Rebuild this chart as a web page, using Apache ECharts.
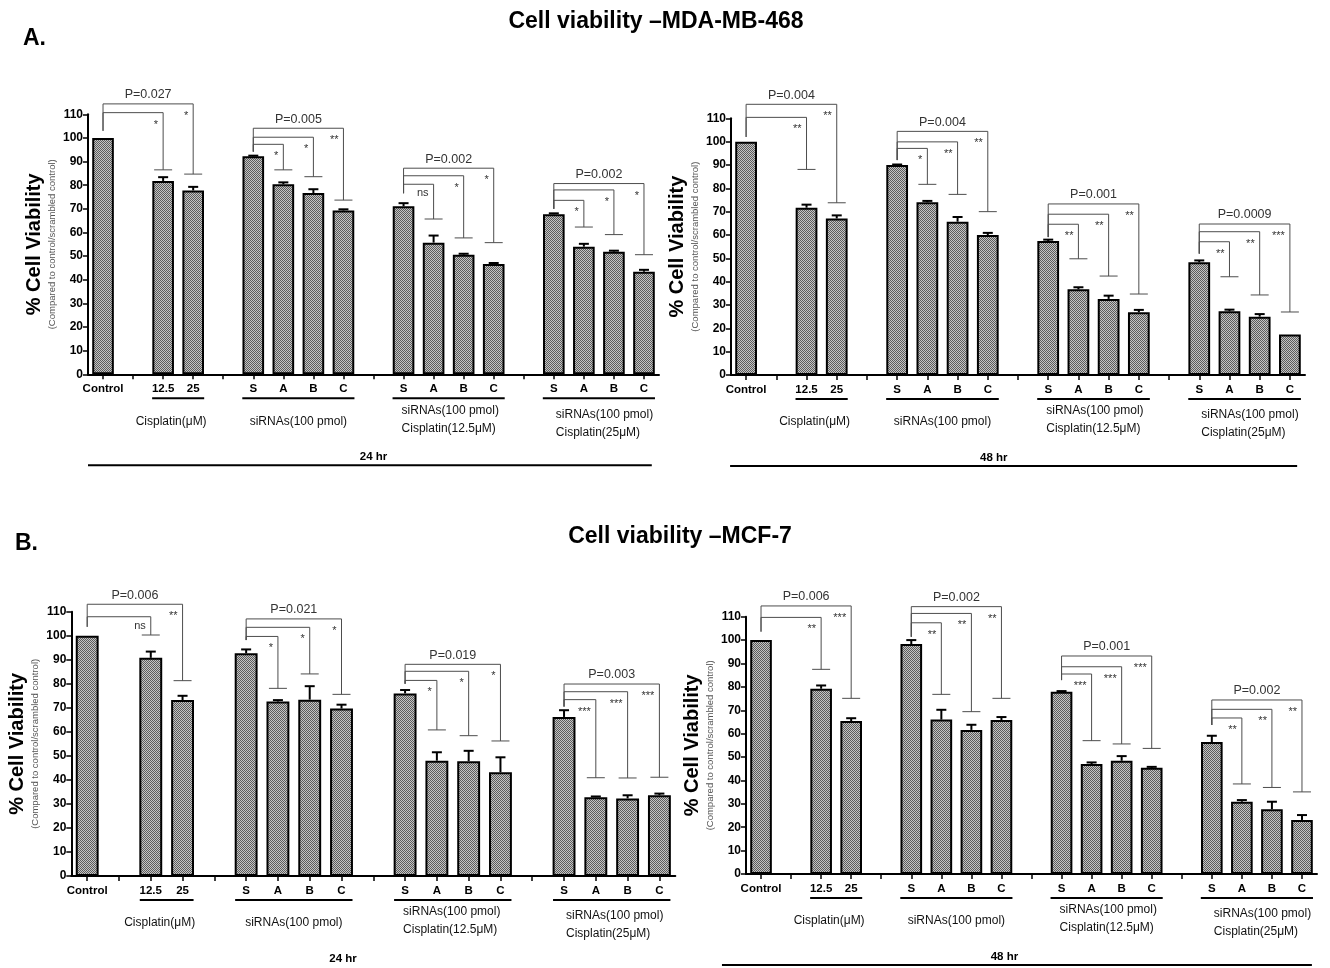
<!DOCTYPE html>
<html><head><meta charset="utf-8">
<script src="https://cdn.jsdelivr.net/npm/echarts@6/dist/echarts.min.js"></script>
<style>html,body{margin:0;padding:0;background:#fff}#c{width:1330px;height:968px}</style>
</head><body><div id="c"></div>
<script>
// ---------- DATA ----------
const slotKeys = ['Control','g1','12.5','25','g2','S1','A1','B1','C1','g3','S2','A2','B2','C2','g4','S3','A3','B3','C3'];
const tickLabels = ['Control','','12.5','25','','S','A','B','C','','S','A','B','C','','S','A','B','C'];
const groupSpans = [[2,3],[5,8],[10,13],[15,18]];
const groupNames = ['Cisplatin(\u03bcM)','siRNAs(100 pmol)','siRNAs(100 pmol)\nCisplatin(12.5\u03bcM)','siRNAs(100 pmol)\nCisplatin(25\u03bcM)'];
const yTicks = [0,10,20,30,40,50,60,70,80,90,100,110];

// MDA-MB-468, 24 hr
const mdaViab24 = [100,null,81.8,77.8,null,92.2,80.4,76.7,69.3,null,71.1,55.7,50.6,46.7,null,67.7,54.0,51.9,43.4];
const mdaErr24  = [0,null,1.6,1.5,null,0.3,0.8,1.6,0.5,null,1.3,3.0,0.4,0.4,null,0.4,1.2,0.4,0.8];
// [ref, target, bracketLevel, refEnd, targetEnd, mark]
const mdaBr24 = [[0,2,110.7,103,86.5,'*'],[0,3,114.4,103,84.7,'*'],
  [5,6,97.3,94.2,86.5,'*'],[5,7,100.3,94.2,83.6,'*'],[5,8,104.1,94.2,73.7,'**'],
  [10,11,80.4,76.6,65.7,'ns'],[10,12,84.0,76.6,57.7,'*'],[10,13,87.2,76.6,55.7,'*'],
  [15,16,73.6,70,62.3,'*'],[15,17,78.0,70,59.1,'*'],[15,18,80.7,70,50.6,'*']];
const mdaP24 = [[0,3,114.4,'P=0.027'],[5,8,104.1,'P=0.005'],[10,13,87.2,'P=0.002'],[15,18,80.7,'P=0.002']];

// MDA-MB-468, 48 hr
const mdaViab48 = [100,null,71.7,67.1,null,90.0,74.0,65.7,60.0,null,57.4,36.7,32.6,26.9,null,48.3,27.3,25.0,17.4];
const mdaErr48  = [0,null,1.3,1.3,null,0.2,0.6,2.0,0.9,null,0.6,0.9,1.4,1.0,null,0.8,0.7,1.1,0];
const mdaBr48 = [[0,2,110.4,102,88.1,'**'],[0,3,116.0,102,73.8,'**'],
  [5,6,97.1,92.1,81.7,'*'],[5,7,99.9,92.1,77.4,'**'],[5,8,104.4,92.1,70.0,'**'],
  [10,11,64.6,59.1,49.8,'**'],[10,12,68.9,59.1,42.4,'**'],[10,13,73.3,59.1,34.7,'**'],
  [15,16,57.1,52,42.1,'**'],[15,17,61.4,52,34.3,'**'],[15,18,64.7,52,27,'***']];
const mdaP48 = [[0,3,116.0,'P=0.004'],[5,8,104.4,'P=0.004'],[10,13,73.3,'P=0.001'],[15,18,64.7,'P=0.0009']];

// MCF-7, 24 hr
const mcfViab24 = [100,null,90.8,73.2,null,92.7,72.6,73.4,69.7,null,76.0,48.0,47.8,43.2,null,66.2,32.8,32.3,33.6];
const mcfErr24  = [0,null,2.6,1.8,null,1.6,0.6,5.6,1.6,null,1.4,3.5,4.3,6.2,null,2.8,0.3,1.3,0.7];
const mcfBr24 = [[0,2,107.9,103.7,100.3,'ns'],[0,3,113.1,103.7,81.3,'**'],
  [5,6,99.7,98.2,78.1,'*'],[5,7,103.5,98.2,84.1,'*'],[5,8,107.0,98.2,75.6,'*'],
  [10,11,81.4,80,60.8,'*'],[10,12,85.2,80,58.4,'*'],[10,13,88.1,80,56.2,'*'],
  [15,16,73.4,70.5,40.9,'***'],[15,17,76.7,70.5,40.8,'***'],[15,18,79.9,70.5,41.1,'***']];
const mcfP24 = [[0,3,113.1,'P=0.006'],[5,8,107.0,'P=0.021'],[10,13,88.1,'P=0.019'],[15,18,79.9,'P=0.003']];

// MCF-7, 48 hr
const mcfViab48 = [100,null,79.2,65.4,null,98.3,66.0,61.6,65.8,null,77.9,47.0,48.4,45.4,null,56.4,30.9,27.7,23.1];
const mcfErr48  = [0,null,1.4,1.2,null,1.7,4.2,2.2,1.3,null,0.3,0.7,2.0,0.4,null,2.7,0.7,3.2,2.1];
const mcfBr48 = [[0,2,109.7,103.6,87.5,'**'],[0,3,114.6,103.6,75.1,'***'],
  [5,6,107.4,101.4,76.8,'**'],[5,7,111.4,101.4,69.4,'**'],[5,8,114.3,101.4,75.1,'**'],
  [10,11,85.5,82.9,57.0,'***'],[10,12,88.6,82.9,55.6,'***'],[10,13,93.2,82.9,53.7,'***'],
  [15,16,66.7,63.7,38.5,'**'],[15,17,70.4,63.7,37.0,'**'],[15,18,74.4,63.7,35.1,'**']];
const mcfP48 = [[0,3,114.6,'P=0.006'],[5,8,114.3,'P=0.002'],[10,13,93.2,'P=0.001'],[15,18,74.4,'P=0.002']];

// ---------- CHART ----------
const FONT = '"Liberation Sans", Arial, sans-serif';
const pat = document.createElement('canvas');
pat.width = 2; pat.height = 2;
(function(){const g = pat.getContext('2d');
  g.fillStyle = '#c4c4c4'; g.fillRect(0,0,2,2);
  g.fillStyle = '#5c5c5c'; g.fillRect(0,0,1,1); g.fillRect(1,1,1,1);})();

const panels = [
  {grid:{left:88, top:114.3, width:571, height:260}, v:mdaViab24, e:mdaErr24, br:mdaBr24, p:mdaP24, hr:'24 hr', hrX:9, hrLine:[-0.5,18.26]},
  {grid:{left:731, top:118.3, width:574, height:256.7}, v:mdaViab48, e:mdaErr48, br:mdaBr48, p:mdaP48, hr:'48 hr', hrX:8.2, hrLine:[-0.53,18.24]},
  {grid:{left:71.3, top:611.7, width:604, height:264.3}, v:mcfViab24, e:mcfErr24, br:mcfBr24, p:mcfP24, hr:'24 hr', hrX:8.05, hrLine:null},
  {grid:{left:746, top:616.7, width:571, height:257.3}, v:mcfViab48, e:mcfErr48, br:mcfBr48, p:mcfP48, hr:'48 hr', hrX:8.1, hrLine:[-1.3,18.33]}
];

const grids = [], xAxes = [], yAxes = [], series = [];
function slotX(api, s){ const a = api.coord([0,0])[0], b = api.coord([1,0])[0]; return a + s*(b-a); }

panels.forEach((P, k) => {
  grids.push(Object.assign({containLabel:false}, P.grid));
  xAxes.push({type:'category', gridIndex:k, data:slotKeys, boundaryGap:true,
    axisLine:{lineStyle:{color:'#000', width:2}},
    axisTick:{show:true, alignWithLabel:true, interval:0, length:5, lineStyle:{color:'#000', width:1.5}},
    axisLabel:{interval:0, margin:9, color:'#000', fontWeight:'bold', fontSize:11.5, fontFamily:FONT,
      formatter:(v, i) => tickLabels[i]}});
  yAxes.push({type:'value', gridIndex:k, min:0, max:110, interval:10,
    axisLine:{show:true, lineStyle:{color:'#000', width:2}},
    axisTick:{show:true, length:5, lineStyle:{color:'#000', width:1.5}},
    splitLine:{show:false},
    axisLabel:{color:'#000', fontWeight:'bold', fontSize:12, fontFamily:FONT, margin:5},
    name:'{a|% Cell Viability}\n{b|(Compared to control/scrambled control)}',
    nameLocation:'middle', nameRotate:90, nameGap:30,
    nameTextStyle:{rich:{
      a:{fontSize:20, fontWeight:'bold', color:'#000', fontFamily:FONT, lineHeight:26},
      b:{fontSize:9.5, color:'#555', fontFamily:FONT, lineHeight:11}}}});

  series.push({type:'bar', xAxisIndex:k, yAxisIndex:k, data:P.v, barWidth:'72%', barGap:'0%',
    itemStyle:{color:{image:pat, repeat:'repeat'}, borderColor:'#000', borderWidth:2}, z:2});

  // error bars
  const errRows = P.v.map((v,i) => v == null ? null : [i, v, P.e[i]]).filter(r => r);
  series.push({type:'custom', xAxisIndex:k, yAxisIndex:k, data:errRows, z:3, silent:true,
    renderItem:(params, api) => {
      const r = errRows[params.dataIndex];
      if (!r[2]) return null;
      const p0 = api.coord([r[0], r[1]]), p1 = api.coord([r[0], r[1] + r[2]]);
      return {type:'group', children:[
        {type:'line', shape:{x1:p0[0], y1:p0[1], x2:p1[0], y2:p1[1]}, style:{stroke:'#000', lineWidth:2}},
        {type:'line', shape:{x1:p1[0]-5, y1:p1[1], x2:p1[0]+5, y2:p1[1]}, style:{stroke:'#000', lineWidth:2}}]};
    }});

  // significance brackets
  series.push({type:'custom', xAxisIndex:k, yAxisIndex:k, data:P.br.map(r => [r[0], r[2]]), z:4, silent:true, clip:false,
    renderItem:(params, api) => {
      const r = P.br[params.dataIndex];
      const a = api.coord([r[0], r[2]]), b = api.coord([r[1], r[2]]);
      const ra = api.coord([r[0], r[3]]), tb = api.coord([r[1], r[4]]);
      const st = {stroke:'#4d4d4d', lineWidth:1, fill:'none'};
      const isNs = r[5] === 'ns';
      return {type:'group', children:[
        {type:'polyline', shape:{points:[[ra[0], ra[1]], [a[0], a[1]], [b[0], b[1]], [tb[0], tb[1]]]}, style:st},
        {type:'line', shape:{x1:tb[0]-9, y1:tb[1], x2:tb[0]+9, y2:tb[1]}, style:{stroke:'#4d4d4d', lineWidth:1}},
        {type:'text', style:{text:r[5], x:b[0]-5, y:b[1] + (isNs ? 9 : 12), align:'right', verticalAlign:'middle',
          fontSize: 11, fontFamily:FONT, fill:'#333'}}]};
    }});

  // P-value labels
  series.push({type:'custom', xAxisIndex:k, yAxisIndex:k, data:P.p.map(r => [r[0], r[2]]), z:4, silent:true, clip:false,
    renderItem:(params, api) => {
      const r = P.p[params.dataIndex];
      const a = api.coord([r[0], r[2]]), b = api.coord([r[1], r[2]]);
      return {type:'text', style:{text:r[3], x:(a[0]+b[0])/2, y:a[1]-9, align:'center', verticalAlign:'middle',
        fontSize:12.5, fontFamily:FONT, fill:'#333'}};
    }});

  // group underlines, group names, time label
  const lblDy = [47, 47, 45, 49], lblAlign = ['center','center','left','left'], lblDx = [-7, 0, -2, 2];
  series.push({type:'custom', xAxisIndex:k, yAxisIndex:k, data:groupSpans.map(g => [g[0], 0]), z:4, silent:true, clip:false,
    renderItem:(params, api) => {
      const i = params.dataIndex, g = groupSpans[i];
      const x0 = api.coord([g[0], 0]), x1 = api.coord([g[1], 0]);
      const y0 = x0[1];
      const children = [
        {type:'line', shape:{x1:x0[0]-11, y1:y0+24, x2:x1[0]+11, y2:y0+24}, style:{stroke:'#000', lineWidth:2}},
        {type:'text', style:{text:groupNames[i],
          x:(lblAlign[i] === 'center' ? (x0[0]+x1[0])/2 : x0[0]) + lblDx[i], y:y0 + lblDy[i],
          align:lblAlign[i], verticalAlign:'middle', fontSize:12, lineHeight:18, fontFamily:FONT, fill:'#111'}}];
      if (i === 0) {
        children.push({type:'text', style:{text:P.hr, x:slotX(api, P.hrX), y:y0+83, align:'center', verticalAlign:'middle',
          fontSize:11.5, fontWeight:'bold', fontFamily:FONT, fill:'#000'}});
        if (P.hrLine) children.push({type:'line', shape:{x1:slotX(api, P.hrLine[0]), y1:y0+91, x2:slotX(api, P.hrLine[1]), y2:y0+91},
          style:{stroke:'#000', lineWidth:2}});
      }
      return {type:'group', children};
    }});
});

const chart = echarts.init(document.getElementById('c'), null, {renderer:'canvas'});
chart.setOption({
  animation:false,
  backgroundColor:'#fff',
  textStyle:{fontFamily:FONT},
  title:[
    {text:'Cell viability \u2013MDA-MB-468', left:651, top:5, textAlign:'center', textStyle:{fontSize:23, fontWeight:'bold', color:'#000', fontFamily:FONT}},
    {text:'A.', left:18, top:22, textStyle:{fontSize:23, fontWeight:'bold', color:'#000', fontFamily:FONT}},
    {text:'Cell viability \u2013MCF-7', left:675, top:520, textAlign:'center', textStyle:{fontSize:23, fontWeight:'bold', color:'#000', fontFamily:FONT}},
    {text:'B.', left:10, top:527, textStyle:{fontSize:23, fontWeight:'bold', color:'#000', fontFamily:FONT}}
  ],
  grid:grids, xAxis:xAxes, yAxis:yAxes, series
});
</script></body></html>
